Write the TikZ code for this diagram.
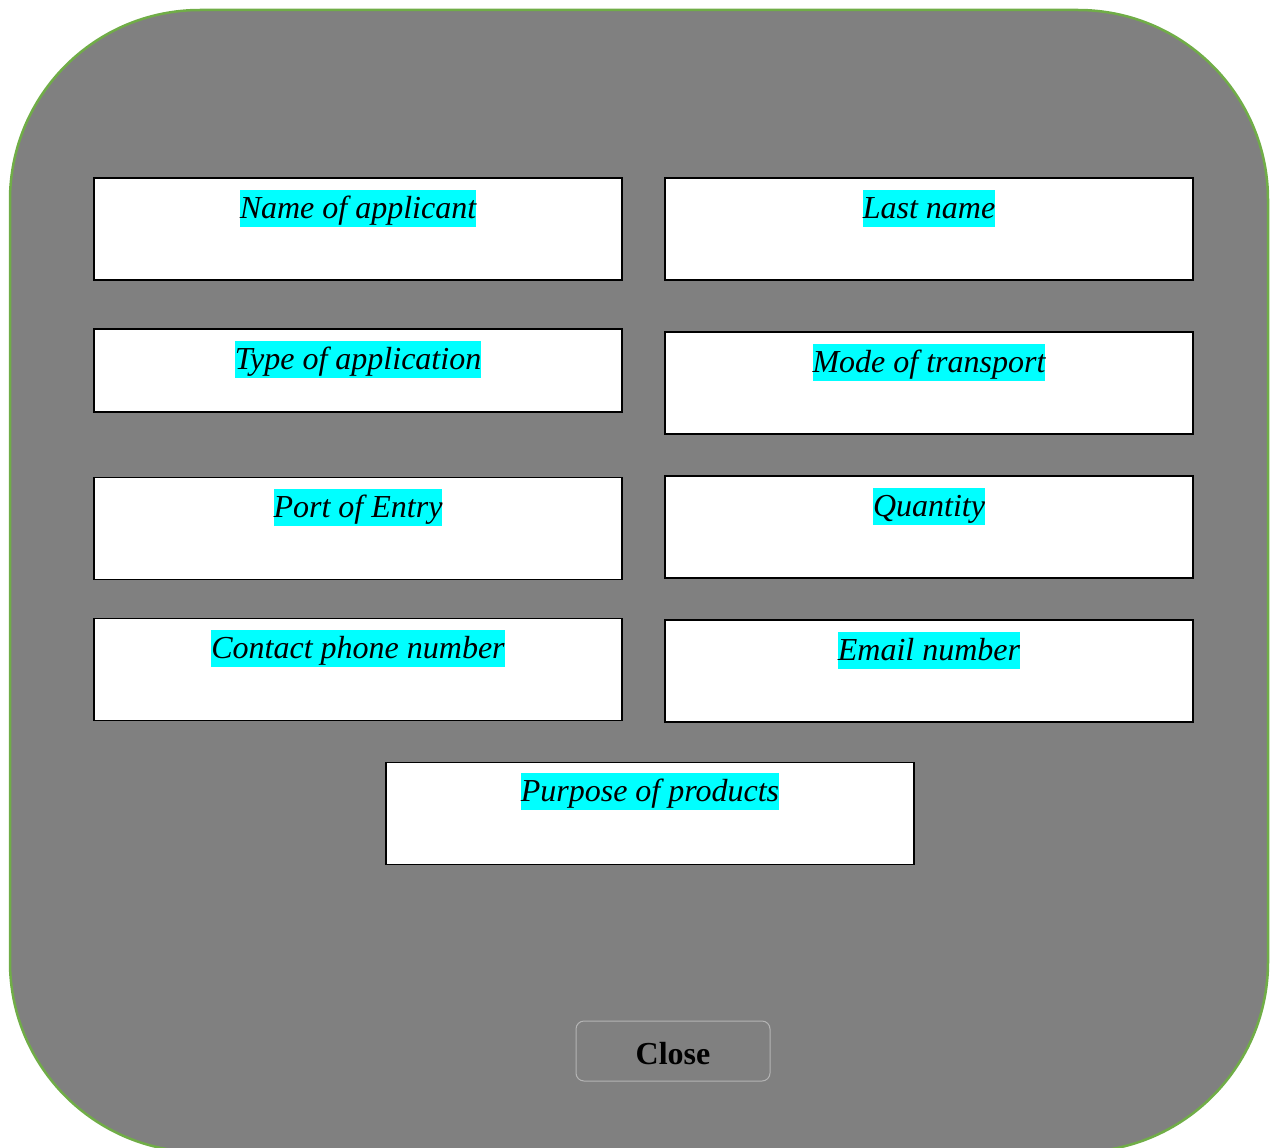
\documentclass[tikz,border=0pt]{standalone}
\usepackage{fontspec}
\setmainfont{Liberation Serif}
\usetikzlibrary{positioning}
\definecolor{panelgrey}{HTML}{808080}
\definecolor{panelgreen}{HTML}{70AD47}
\definecolor{btnline}{HTML}{B4B4B4}
\definecolor{fieldcyan}{HTML}{00FFFF}

\begin{document}
\begin{tikzpicture}[x=1pt,y=-1pt,
    field/.style={draw=black,line width=1.5pt,fill=white,inner sep=0pt,
      minimum width=528pt,minimum height=102pt},
    flabel/.style={fill=fieldcyan,inner sep=0pt,text height=28.5pt,text depth=8.5pt,
      font=\fontsize{32}{36}\selectfont\itshape}]
      \useasboundingbox (0,0) rectangle (1274,1148);
      \begin{scope}
    \clip (0,0) rectangle (1274,1148);
    \draw[panelgreen,line width=2.5pt,fill=panelgrey,rounded corners=190pt]
      (10,10) rectangle (1268,1152);
      \end{scope}

\node[field] (applicant) at (358,229) {};
\node[field] (lastname) at (929,229) {};
\node[field,minimum height=83pt] (apptype) at (358,370.5) {};
\node[field] (transport) at (929,383) {};
\node[field] (port) at (358,528.5) {};
\node[field] (quantity) at (929,527) {};
\node[field] (phone) at (358,669.5) {};
\node[field] (email) at (929,671) {};
\node[field] (purpose) at (650,813.5) {};

\node[flabel,below=12.5pt of applicant.north] {Name of applicant};
\node[flabel,below=12.5pt of lastname.north] {Last name};
\node[flabel,below=12.5pt of apptype.north] {Type of application};
\node[flabel,below=12.5pt of transport.north] {Mode of transport};
\node[flabel,below=12.5pt of port.north] {Port of Entry};
\node[flabel,below=12.5pt of quantity.north] {Quantity};
\node[flabel,below=12.5pt of phone.north] {Contact phone number};
\node[flabel,below=12.5pt of email.north] {Email number};
\node[flabel,below=11.5pt of purpose.north] {Purpose of products};

\node[draw=btnline,line width=1pt,rounded corners=8pt,minimum width=194pt,
  minimum height=60pt,text height=27pt,text depth=0pt,
  font=\fontsize{32}{36}\selectfont\bfseries] (close) at (673,1051) {Close};
    \end{tikzpicture}
\end{document}
